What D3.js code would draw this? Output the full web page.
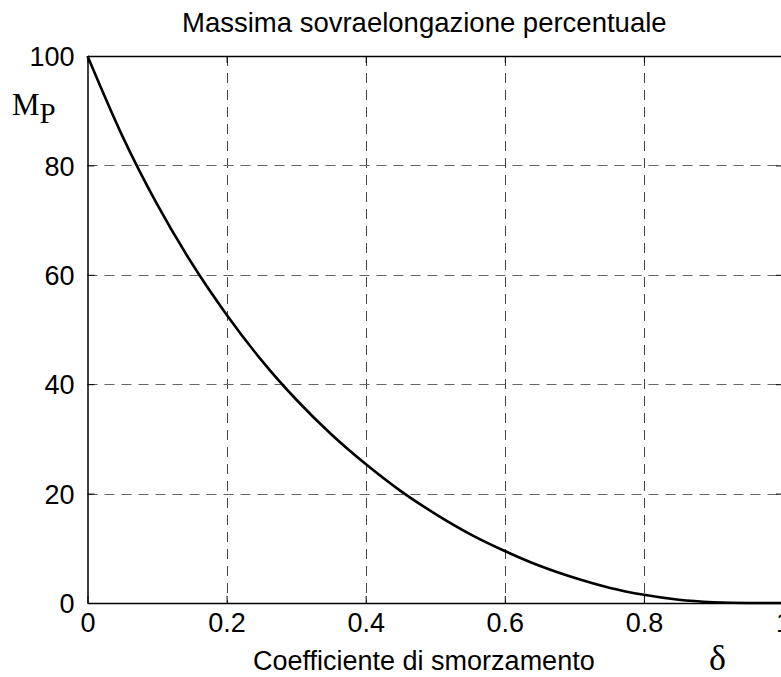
<!DOCTYPE html>
<html>
<head>
<meta charset="utf-8">
<script src="https://cdn.jsdelivr.net/npm/d3@7"></script>
<style>
  html, body { margin: 0; padding: 0; background: #fff; }
  svg { display: block; }
</style>
</head>
<body>
<svg id="chart" width="781" height="677"></svg>
<script>
// Data: damping coefficient vs. percent overshoot
const delta = [0, 0.05, 0.10, 0.15, 0.20, 0.25, 0.30, 0.35, 0.40, 0.45, 0.50,
               0.55, 0.60, 0.65, 0.70, 0.75, 0.80, 0.85, 0.90, 0.95, 1.00];
const overshoot = [100, 85.4, 72.9, 62.1, 52.7, 44.4, 37.2, 30.9, 25.4, 20.5, 16.3,
                   12.6, 9.5, 6.8, 4.6, 2.8, 1.5, 0.6, 0.15, 0.0, 0.0];
const xTicks = [0, 0.2, 0.4, 0.6, 0.8, 1];
const xTickLabels = ["0", "0.2", "0.4", "0.6", "0.8", "1"];
const yTicks = [0, 20, 40, 60, 80, 100];
const yTickLabels = ["0", "20", "40", "60", "80", "100"];
const titleText = "Massima sovraelongazione percentuale";
const xLabelText = "Coefficiente di smorzamento";

const svg = d3.select("#chart");
const L = 87.5, R = 783, T = 56, B = 603;
const x = d3.scaleLinear().domain([0, 1]).range([L, R]);
const y = d3.scaleLinear().domain([0, 100]).range([B, T]);
const sans = "'Liberation Sans', Arial, Helvetica, sans-serif";
const serif = "'Liberation Serif', 'Times New Roman', serif";

// grid
const grid = svg.append("g");
grid.selectAll("line.gx").data(xTicks.filter(d => d > 0 && d < 1)).enter().append("line")
  .attr("x1", d => Math.round(x(d)) + 0.5).attr("x2", d => Math.round(x(d)) + 0.5)
  .attr("y1", T).attr("y2", B)
  .attr("stroke", "#444").attr("stroke-width", 1).attr("stroke-dasharray", "10,7");
grid.selectAll("line.gy").data(yTicks.filter(d => d > 0 && d < 100)).enter().append("line")
  .attr("y1", d => Math.round(y(d)) + 0.5).attr("y2", d => Math.round(y(d)) + 0.5)
  .attr("x1", L).attr("x2", R)
  .attr("stroke", "#666").attr("stroke-width", 1).attr("stroke-dasharray", "10,7");

// axes (box)
const xAxis = d3.axisBottom(x).tickValues(xTicks).tickFormat((d, i) => xTickLabels[i])
  .tickSizeInner(-7).tickSizeOuter(0).tickPadding(24);
const gx = svg.append("g").attr("transform", `translate(0,${B})`).call(xAxis);
const yAxis = d3.axisLeft(y).tickValues(yTicks).tickFormat((d, i) => yTickLabels[i])
  .tickSizeInner(-7).tickSizeOuter(0).tickPadding(13);
const gy = svg.append("g").attr("transform", `translate(${L},0)`).call(yAxis);
const gTop = svg.append("g").attr("transform", `translate(0,${T})`)
  .call(d3.axisTop(x).tickValues(xTicks).tickFormat("").tickSizeInner(-7).tickSizeOuter(0));
const gRight = svg.append("g").attr("transform", `translate(${R},0)`)
  .call(d3.axisRight(y).tickValues(yTicks).tickFormat("").tickSizeInner(-7).tickSizeOuter(0));

[gx, gy, gTop, gRight].forEach(g => {
  g.select(".domain").attr("stroke", "#000").attr("stroke-width", 1.5);
  g.selectAll(".tick line").attr("stroke", "#000").attr("stroke-width", 1);
  g.selectAll("text").attr("fill", "#000").style("font-family", sans).style("font-size", "27px");
});
gx.selectAll("text").attr("dy", "0.2em");
gy.selectAll("text").attr("dy", "0.36em");

// curve
const line = d3.line().x((d, i) => x(delta[i])).y(d => y(d)).curve(d3.curveMonotoneX);
svg.append("path").datum(overshoot).attr("d", line)
  .attr("fill", "none").attr("stroke", "#000").attr("stroke-width", 2.6)
  .attr("stroke-linejoin", "round");

// title and labels
svg.append("text").attr("x", 182).attr("y", 32).text(titleText)
  .style("font-family", sans).style("font-size", "27.5px").attr("fill", "#000");
svg.append("text").attr("x", 253).attr("y", 670).text(xLabelText)
  .style("font-family", sans).style("font-size", "27px").attr("fill", "#000");
const mp = svg.append("text").attr("x", 12).attr("y", 115)
  .style("font-family", serif).attr("fill", "#000");
mp.append("tspan").text("M").style("font-size", "31px");
mp.append("tspan").text("P").attr("dy", 8).style("font-size", "29px");
svg.append("text").attr("x", 709).attr("y", 670).text("δ")
  .style("font-family", serif).style("font-size", "36px").attr("fill", "#000");
</script>
</body>
</html>
